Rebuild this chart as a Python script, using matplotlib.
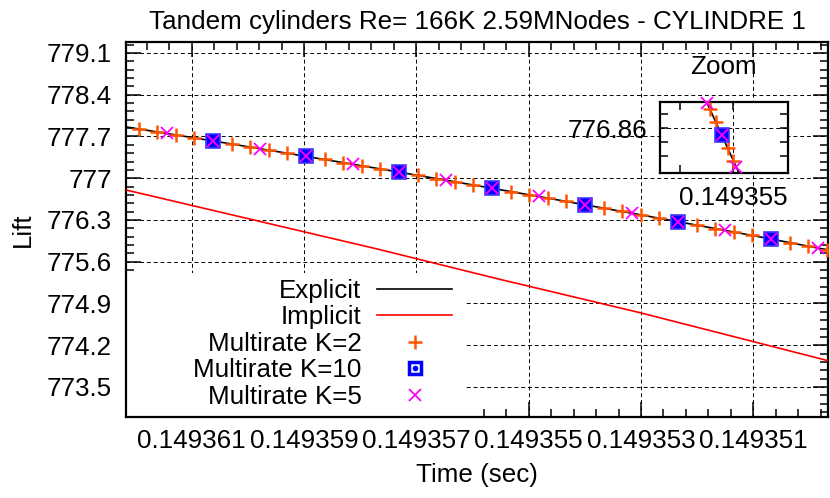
import matplotlib
matplotlib.use('Agg')
import matplotlib.pyplot as plt
from matplotlib.lines import Line2D
from matplotlib.patches import Rectangle
from matplotlib.ticker import AutoMinorLocator, FixedLocator, FuncFormatter
from matplotlib.legend_handler import HandlerTuple

plt.rcParams['font.family'] = ['Liberation Sans', 'DejaVu Sans']

# explicit reference solution
explicit_t = [0.14936217, 0.1493614487, 0.1493606207, 0.1493597927, 0.1493589647,
              0.1493581367, 0.1493573087, 0.1493564807, 0.1493556527, 0.1493548247,
              0.1493539967, 0.1493531687, 0.1493523407, 0.1493515127, 0.1493506847,
              0.1493498567, 0.14934967]
explicit_lift = [777.860, 777.751, 777.625, 777.496, 777.366, 777.235, 777.102, 776.967,
                 776.831, 776.694, 776.554, 776.414, 776.271, 776.127, 775.981, 775.830,
                 775.800]

# implicit solution
implicit_t = [0.14936217, 0.14935770, 0.14935551, 0.14935302, 0.14934967]
implicit_lift = [776.803, 775.814, 775.304, 774.746, 773.941]

# multirate K=2
k2_t = [0.1493619455, 0.1493616143, 0.1493612831, 0.1493609519, 0.1493606207,
        0.1493602895, 0.1493599583, 0.1493596271, 0.1493592959, 0.1493589647,
        0.1493586335, 0.1493583023, 0.1493579711, 0.1493576399, 0.1493573087,
        0.1493569775, 0.1493566463, 0.1493563151, 0.1493559839, 0.1493556527,
        0.1493553215, 0.1493549903, 0.1493546591, 0.1493543279, 0.1493539967,
        0.1493536655, 0.1493533343, 0.1493530031, 0.1493526719, 0.1493523407,
        0.1493520095, 0.1493516783, 0.1493513471, 0.1493510159, 0.1493506847,
        0.1493503535, 0.1493500223, 0.1493496911]
k2_lift = [777.827, 777.776, 777.726, 777.676, 777.625, 777.574, 777.522, 777.470,
           777.419, 777.366, 777.314, 777.261, 777.209, 777.155, 777.102, 777.048,
           776.994, 776.940, 776.886, 776.831, 776.776, 776.721, 776.666, 776.610,
           776.554, 776.498, 776.442, 776.385, 776.328, 776.271, 776.214, 776.156,
           776.098, 776.040, 775.981, 775.920, 775.858, 775.795]

# multirate K=10
k10_t = [0.1493606207, 0.1493589647, 0.1493573087, 0.1493556527, 0.1493539967,
         0.1493523407, 0.1493506847]
k10_lift = [777.625, 777.366, 777.102, 776.831, 776.554, 776.271, 775.981]

# multirate K=5
k5_t = [0.1493614487, 0.1493606207, 0.1493597927, 0.1493589647, 0.1493581367,
        0.1493573087, 0.1493564807, 0.1493556527, 0.1493548247, 0.1493539967,
        0.1493531687, 0.1493523407, 0.1493515127, 0.1493506847, 0.1493498567]
k5_lift = [777.751, 777.625, 777.496, 777.366, 777.235, 777.102, 776.967, 776.831,
           776.694, 776.554, 776.414, 776.271, 776.127, 775.981, 775.830]

x_ticks = [0.149361, 0.149359, 0.149357, 0.149355, 0.149353, 0.149351]
y_ticks = [773.5, 774.2, 774.9, 775.6, 776.3, 777.0, 777.7, 778.4, 779.1]

ORANGE = '#ff5500'
BLUE = '#0000ff'
MAGENTA = '#ff00ff'
FS = 18.7

k2_style = dict(marker='+', ms=10, mew=1.8, color=ORANGE, zorder=4)
k10_style = dict(marker='s', ms=10, mfc=BLUE, mec='#3a3aff', mew=1.2, zorder=5)
k5_style = dict(marker='x', ms=9, mew=1.3, color=MAGENTA, zorder=6)

fig = plt.figure(figsize=(8.3, 4.98), dpi=100)
ax = fig.add_axes([0.1518, 0.1627, 0.8458, 0.753])

ax.plot(explicit_t, explicit_lift, color='black', lw=1.2, zorder=3)
ax.plot(implicit_t, implicit_lift, color='#ff0000', lw=1.2, zorder=3)
ax.plot(k2_t, k2_lift, ls='', **k2_style)
ax.plot(k10_t, k10_lift, ls='', **k10_style)
ax.plot(k5_t, k5_lift, ls='', **k5_style)
ax.set_xlim(0.14936217, 0.14934967)
ax.set_ylim(772.997, 779.284)

ax.xaxis.set_major_locator(FixedLocator(x_ticks))
ax.yaxis.set_major_locator(FixedLocator(y_ticks))
ax.xaxis.set_minor_locator(AutoMinorLocator(5))
ax.yaxis.set_minor_locator(AutoMinorLocator(5))
ax.xaxis.set_major_formatter(FuncFormatter(lambda v, p: '%.6f' % v))
ax.yaxis.set_major_formatter(FuncFormatter(lambda v, p: '%g' % round(v, 1)))
ax.tick_params(which='both', direction='in', top=True, right=True, labelsize=FS)
ax.tick_params(which='major', length=11, width=1.1)
ax.tick_params(which='minor', length=6, width=1.1)
ax.tick_params(axis='x', pad=9)
ax.tick_params(axis='y', pad=10)
for s in ax.spines.values():
    s.set_linewidth(1.6)

ax.set_axisbelow(True)
ax.grid(True, which='major', color='black', lw=0.7, ls=(0, (4, 3)))

# white key area over the grid
ax.add_patch(Rectangle((0, 0), 0.483, 0.384, transform=ax.transAxes,
                       facecolor='white', edgecolor='none', zorder=1))

ax.set_title('Tandem cylinders Re= 166K 2.59MNodes - CYLINDRE 1', fontsize=FS, pad=9)
ax.set_xlabel('Time (sec)', fontsize=FS, labelpad=7)
ax.set_ylabel('Lift', fontsize=FS, labelpad=9)

h_exp = Line2D([], [], color='black', lw=1.2)
h_imp = Line2D([], [], color='#ff0000', lw=1.2)
h_k2 = Line2D([], [], ls='', marker='+', ms=10, mew=1.8, color=ORANGE)
h_k10a = Line2D([], [], ls='', marker='s', ms=9, mfc='white', mec=BLUE, mew=2.5)
h_k10b = Line2D([], [], ls='', marker='o', ms=3, mfc=BLUE, mec=BLUE)
h_k5 = Line2D([], [], ls='', marker='x', ms=9, mew=1.3, color=MAGENTA)
leg = ax.legend([h_exp, h_imp, h_k2, (h_k10a, h_k10b), h_k5],
                ['Explicit', 'Implicit', 'Multirate K=2', 'Multirate K=10', 'Multirate K=5'],
                handler_map={tuple: HandlerTuple(ndivide=1)},
                loc='upper right', bbox_to_anchor=(0.465, 0.369), frameon=False,
                markerfirst=False, fontsize=FS, handlelength=2.9, handletextpad=0.6,
                labelspacing=0.1, borderpad=0, borderaxespad=0)
leg.set_zorder(7)

# zoom inset
axz = fig.add_axes([0.795, 0.6526, 0.154, 0.1426])
axz.plot(explicit_t, explicit_lift, color='black', lw=1.2, zorder=3)
t_lo, t_hi = 0.14935194, 0.14935913
l_lo, l_hi = 776.68, 776.975
for tt, ll, kw in [(k2_t, k2_lift, k2_style), (k10_t, k10_lift, k10_style),
                   (k5_t, k5_lift, k5_style)]:
    sel = [(a, b) for a, b in zip(tt, ll) if t_lo <= a <= t_hi and l_lo <= b <= l_hi]
    axz.plot([a for a, b in sel], [b for a, b in sel], ls='', clip_on=False, **kw)
axz.set_xlim(t_hi, t_lo)
axz.set_ylim(776.67, 776.97)
axz.xaxis.set_major_locator(FixedLocator([0.149355]))
axz.xaxis.set_minor_locator(FixedLocator([0.149358]))
axz.yaxis.set_major_locator(FixedLocator([776.86]))
axz.yaxis.set_minor_locator(FixedLocator([776.74, 776.80, 776.92]))
axz.xaxis.set_major_formatter(FuncFormatter(lambda v, p: '%.6f' % v))
axz.yaxis.set_major_formatter(FuncFormatter(lambda v, p: '%.2f' % v))
axz.tick_params(which='both', direction='in', top=True, right=True, labelsize=FS,
                length=6, width=1.1)
axz.tick_params(axis='both', pad=9)
for s in axz.spines.values():
    s.set_linewidth(1.6)
axz.grid(True, which='major', color='black', lw=0.7, ls=(0, (4, 3)))
axz.set_title('Zoom', fontsize=FS, pad=20)

fig.savefig('out.png', dpi=100)
